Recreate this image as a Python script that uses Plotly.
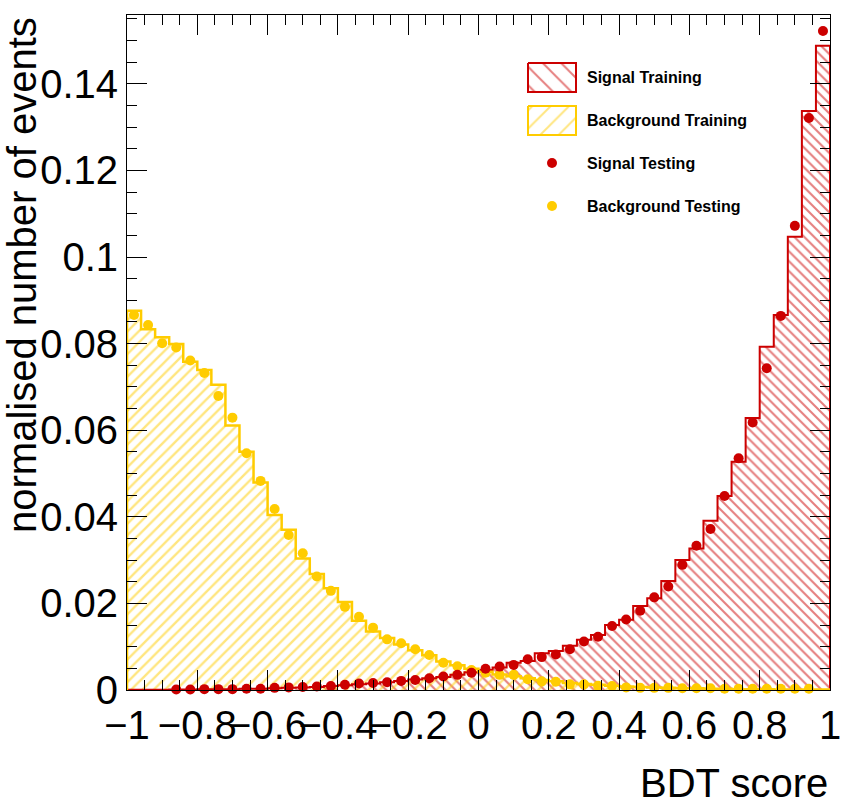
import numpy as np
import plotly.graph_objects as go

# BDT score binning: 50 bins on [-1, 1]
n_bins = 50
x_lo, x_hi = -1.0, 1.0

# Normalised training histograms (hatched, outlined)
sig_train = [0.00003, 0.00005, 0.00008, 0.0001, 0.0001, 0.0002, 0.0002, 0.0002, 0.0003, 0.0003,
             0.0004, 0.0005, 0.0006, 0.0007, 0.0009, 0.0011, 0.0013, 0.0015, 0.0018, 0.0021,
             0.0024, 0.0027, 0.0030, 0.0035, 0.0041, 0.0046, 0.0052, 0.0063, 0.0067, 0.0085,
             0.0090, 0.0102, 0.0116, 0.0127, 0.0150, 0.0162, 0.0194, 0.0212, 0.0252, 0.0300,
             0.0327, 0.0391, 0.0448, 0.0527, 0.0628, 0.0793, 0.0866, 0.1047, 0.1337, 0.1488]

bkg_train = [0.0876, 0.0833, 0.0815, 0.0799, 0.0758, 0.0739, 0.0705, 0.0611, 0.0550, 0.0479,
             0.0404, 0.0370, 0.0304, 0.0268, 0.0235, 0.0203, 0.0160, 0.0135, 0.0120, 0.0105,
             0.0092, 0.0080, 0.0066, 0.0057, 0.0049, 0.0042, 0.0036, 0.0032, 0.0027, 0.0023,
             0.0020, 0.0016, 0.0014, 0.0012, 0.0010, 0.0008, 0.0007, 0.0006, 0.0005, 0.0004,
             0.0004, 0.0003, 0.0003, 0.0002, 0.0002, 0.0002, 0.0001, 0.0001, 0.0001, 0.0001]

# Normalised testing samples (points); None = empty bin
sig_test = [None, None, None, 0.0001, 0.0001, 0.0002, 0.0002, 0.0002, 0.0003, 0.0003,
            0.0005, 0.0006, 0.0007, 0.0008, 0.0009, 0.0012, 0.0015, 0.0016, 0.0018, 0.0021,
            0.0023, 0.0027, 0.0031, 0.0035, 0.0040, 0.0049, 0.0054, 0.0058, 0.0071, 0.0076,
            0.0082, 0.0094, 0.0112, 0.0123, 0.0148, 0.0163, 0.0183, 0.0214, 0.0239, 0.0289,
            0.0333, 0.0372, 0.0448, 0.0535, 0.0618, 0.0743, 0.0864, 0.1072, 0.1321, 0.1522]

bkg_test = [0.0866, 0.0843, 0.0801, 0.0791, 0.0761, 0.0732, 0.0679, 0.0629, 0.0547, 0.0483,
            0.0418, 0.0358, 0.0316, 0.0262, 0.0229, 0.0192, 0.0169, 0.0144, 0.0117, 0.0108,
            0.0094, 0.0081, 0.0063, 0.0055, 0.0046, 0.0040, 0.0035, 0.0035, 0.0025, 0.0020,
            0.0019, 0.0013, 0.0013, 0.0010, 0.0009, 0.0006, 0.0005, 0.0005, 0.0005, 0.0004,
            0.0004, 0.0004, 0.0003, 0.0003, 0.0003, 0.0003, 0.0003, 0.0003, 0.0003, None]

legend_labels = ["Signal Training", "Background Training", "Signal Testing", "Background Testing"]

RED = "#CC0000"
YEL = "#FFCC00"
FONT = "Liberation Sans, Arial, Helvetica, sans-serif"

edges = np.linspace(x_lo, x_hi, n_bins + 1)
centers = 0.5 * (edges[:-1] + edges[1:])
width = edges[1] - edges[0]


def outline(vals):
    xs = [edges[0]] + list(edges[:-1]) + [edges[-1], edges[-1]]
    ys = [0.0] + list(vals) + [vals[-1], 0.0]
    return xs, ys


fig = go.Figure()

for vals, col, shape, sz in [(sig_train, RED, "\\", 7), (bkg_train, YEL, "/", 8)]:
    fig.add_trace(go.Bar(
        x=centers, y=vals, width=width,
        marker=dict(color="rgba(0,0,0,0)", line=dict(width=0),
                    pattern=dict(shape=shape, fgcolor=col, size=sz, solidity=0.3,
                                 fillmode="overlay")),
        showlegend=False, hoverinfo="skip"))

for vals, col, lw in [(sig_train, RED, 2), (bkg_train, YEL, 2.5)]:
    xs, ys = outline(vals)
    fig.add_trace(go.Scatter(x=xs, y=ys, mode="lines", line=dict(color=col, width=lw, shape="hv"),
                             showlegend=False, hoverinfo="skip", cliponaxis=False))

for vals, col in [(bkg_test, YEL), (sig_test, RED)]:
    fig.add_trace(go.Scatter(x=centers, y=vals, mode="markers",
                             marker=dict(color=col, size=10, line=dict(width=0)),
                             showlegend=False, cliponaxis=False))

# Legend drawn on a pixel-scaled overlay axis
boxes = [(63, 92, RED, "\\"), (106, 135, YEL, "/")]
for (y0, y1, col, shape) in boxes:
    fig.add_trace(go.Scatter(
        x=[528, 576, 576, 528, 528], y=[y0, y0, y1, y1, y0],
        xaxis="x2", yaxis="y2", mode="lines", fill="toself", fillcolor="white",
        fillpattern=dict(shape=shape, fgcolor=col, size=13, solidity=0.15, fillmode="overlay"),
        line=dict(color=col, width=2), showlegend=False, hoverinfo="skip"))

fig.add_trace(go.Scatter(x=[552, 552], y=[163, 206], xaxis="x2", yaxis="y2", mode="markers",
                         marker=dict(color=[RED, YEL], size=10), showlegend=False, hoverinfo="skip"))

for label, ypix in zip(legend_labels, [77, 120, 163, 206]):
    fig.add_annotation(x=585, y=ypix, xref="x2", yref="y2", text="<b>%s</b>" % label,
                       showarrow=False, xanchor="left", yanchor="middle",
                       font=dict(family=FONT, size=16, color="black"))

# Axis titles placed in paper coordinates (plot area spans x 127..830 px, y 15..690 px)
fig.add_annotation(x=(22 - 127) / 703, y=1.0, xref="paper", yref="paper",
                   text="normalised number of events",
                   textangle=-90, showarrow=False, xanchor="center", yanchor="top",
                   font=dict(family=FONT, size=40, color="black"))
fig.add_annotation(x=1.0, y=(690 - 783) / 675, xref="paper", yref="paper", text="BDT score",
                   showarrow=False, xanchor="right", yanchor="middle",
                   font=dict(family=FONT, size=40, color="black"))

axis_common = dict(showline=True, linecolor="black", linewidth=1, mirror="ticks",
                   ticks="inside", tickcolor="black", tickwidth=1, ticklen=20,
                   showgrid=False, zeroline=False, automargin=False,
                   tickfont=dict(family=FONT, size=40, color="black"))

fig.update_layout(
    width=843, height=806,
    margin=dict(l=127, r=13, t=15, b=116, autoexpand=False),
    paper_bgcolor="white", plot_bgcolor="white",
    barmode="overlay", bargap=0, showlegend=False,
    xaxis=dict(range=[x_lo, x_hi], dtick=0.2, tick0=-1, tickangle=0,
               minor=dict(dtick=0.05, ticks="inside", ticklen=10, tickcolor="black", showgrid=False),
               **axis_common),
    yaxis=dict(range=[0, 0.1559], dtick=0.02, tick0=0,
               minor=dict(dtick=0.005, ticks="inside", ticklen=10, tickcolor="black", showgrid=False),
               **axis_common),
    xaxis2=dict(overlaying="x", range=[127, 830], visible=False, fixedrange=True),
    yaxis2=dict(overlaying="y", range=[690, 15], visible=False, fixedrange=True),
)

fig.write_html("out.html")
